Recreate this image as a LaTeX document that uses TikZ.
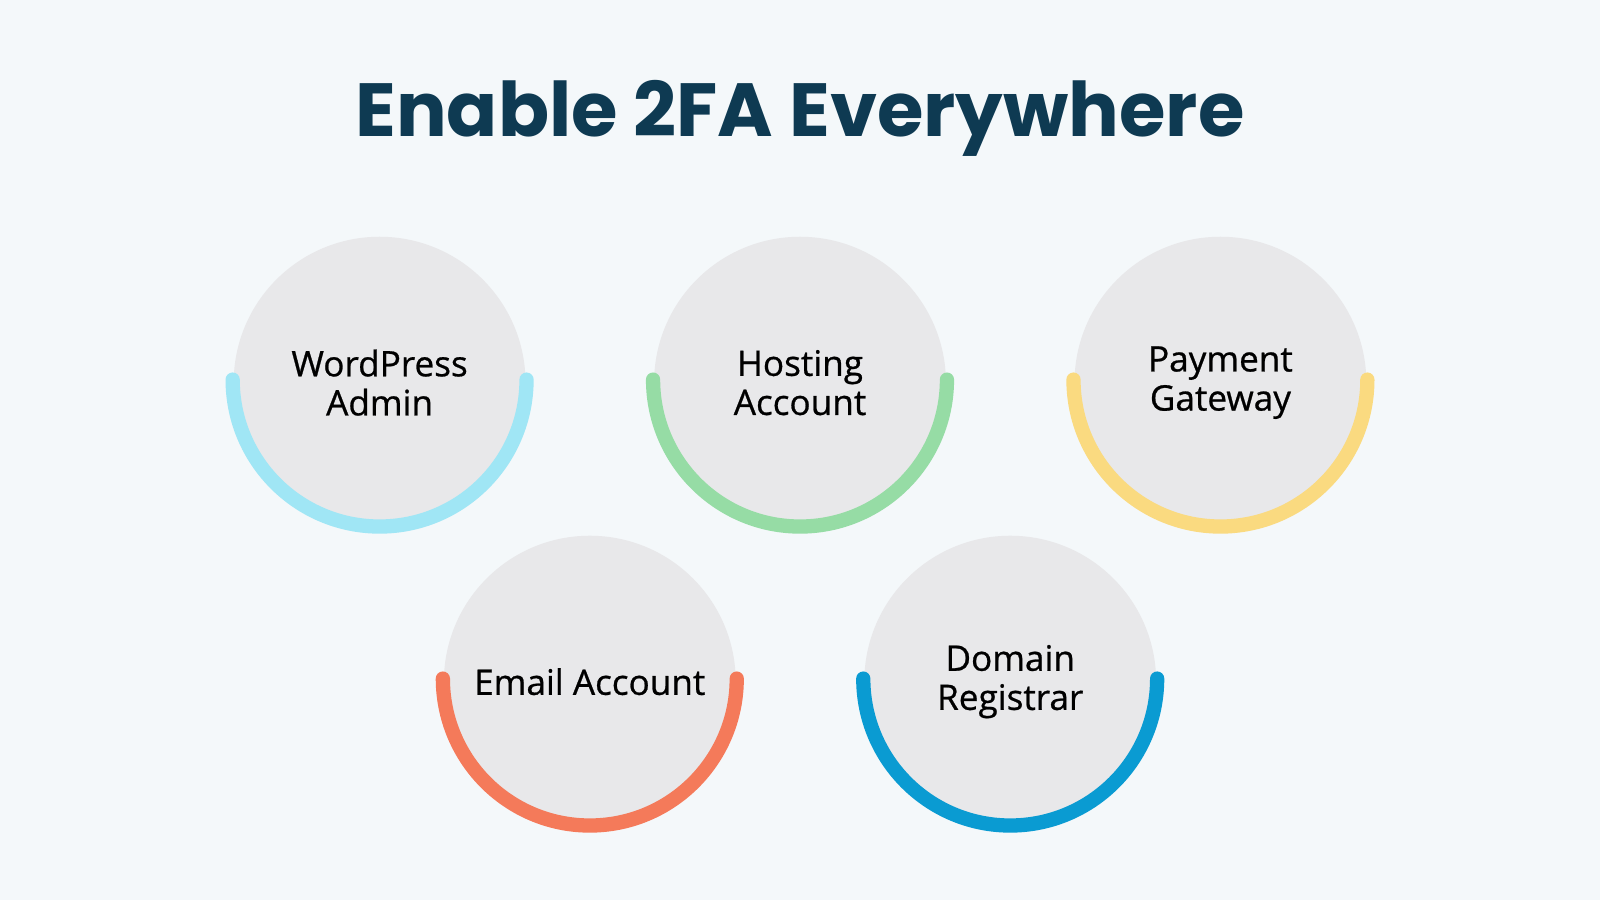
\documentclass[tikz,border=0pt]{standalone}
\usepackage{fontspec}
\setmainfont{Open Sans}[FakeBold=0.7]
\newfontfamily\titlefont{Poppins}
\definecolor{bgc}{HTML}{F4F8FA}
\definecolor{fillc}{HTML}{E8E8EA}
\definecolor{navy}{HTML}{0E3A52}
\definecolor{cA}{HTML}{A0E6F5}
\definecolor{cB}{HTML}{96DCA5}
\definecolor{cC}{HTML}{FADA80}
\definecolor{cD}{HTML}{F47A5A}
\definecolor{cE}{HTML}{0A9BD2}
\begin{document}
\begin{tikzpicture}[
  disc/.style={circle,fill=fillc,minimum size=2.86cm,inner sep=0pt,align=center,font=\fontsize{9.8}{10.9}\selectfont,text=black},
  ring/.style={line width=0.14cm,line cap=round}]
\fill[bgc] (0,0) rectangle (15.68,8.82);
\useasboundingbox (0,0) rectangle (15.68,8.82);
\node[font=\titlefont\bfseries\fontsize{21}{25}\selectfont,text=navy] (title) at (7.84,7.66) {Enable 2FA Everywhere};
\foreach \n/\x/\y/\c/\t in {a/3.72/5.07/cA/{WordPress\\Admin},b/7.84/5.07/cB/{Hosting\\Account},c/11.96/5.07/cC/{Payment\\Gateway},d/5.78/2.14/cD/{Email Account},e/9.90/2.14/cE/{Domain\\Registrar}}{
  \node[disc] (\n) at (\x,\y) {\t};
  \draw[ring,\c] ([xshift=-1.44cm,yshift=0.03cm]\n.center) arc[start angle=180,end angle=360,radius=1.44cm];
}
\end{tikzpicture}
\end{document}
